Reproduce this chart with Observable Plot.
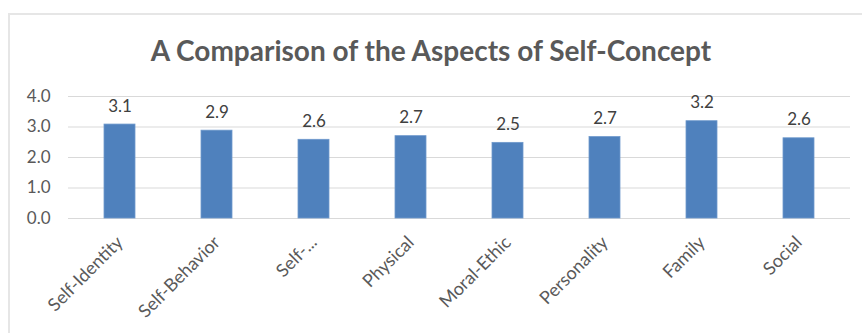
<!DOCTYPE html>
<html>
<head>
<meta charset="utf-8">
<script src="https://cdn.jsdelivr.net/npm/d3@7"></script>
<script src="https://cdn.jsdelivr.net/npm/@observablehq/plot@0.6"></script>
<style>
  html, body { margin: 0; padding: 0; background: #fff; width: 862px; height: 333px; overflow: hidden; }
  #frame { position: absolute; left: 8px; top: 13px; width: 1000px; height: 500px; border: 2px solid #e6e6e6; box-sizing: border-box; }
  #title { position: absolute; left: 0; width: 862px; top: 33px; text-align: center; font-family: Lato, sans-serif; font-weight: bold; font-size: 28px; color: #595959; line-height: 34px; }
  #chart { position: absolute; left: 0; top: 0; }
</style>
</head>
<body>
<div id="frame"></div>
<div id="chart"></div>
<div id="title">A Comparison of the Aspects of Self-Concept</div>
<script>
const categories = ["Self-Identity", "Self-Behavior", "Self-...", "Physical", "Moral-Ethic", "Personality", "Family", "Social"];
const values = [3.08, 2.88, 2.58, 2.70, 2.48, 2.67, 3.19, 2.63];
const yTicks = [0, 1, 2, 3, 4];

const data = categories.map((c, i) => ({category: c, value: values[i]}));

const chart = Plot.plot({
  width: 862,
  height: 333,
  marginLeft: 68,
  marginRight: 12,
  marginTop: 96,
  marginBottom: 115,
  style: {fontFamily: "Lato, sans-serif", background: "transparent"},
  x: {domain: categories, paddingInner: 0.68, paddingOuter: 0.34, label: null},
  y: {domain: [0, 4], label: null},
  marks: [
    Plot.gridY(yTicks, {stroke: "#d9d9d9", strokeOpacity: 1, strokeWidth: 1}),
    Plot.axisY(yTicks, {tickSize: 0, tickPadding: 18, tickFormat: d => d.toFixed(1), fontSize: 17, fill: "#595959", label: null}),
    Plot.axisX({tickSize: 0, tickRotate: -45, tickPadding: 21, fontSize: 18, fill: "#595959", label: null}),
    Plot.barY(data, {x: "category", y: "value", fill: "#4f81bd", stroke: "#6f99cc", strokeWidth: 0.8}),
    Plot.text(data, {x: "category", y: "value", text: d => d.value.toFixed(1), dy: -13, lineAnchor: "bottom", fontSize: 17, fill: "#404040"})
  ]
});
document.getElementById("chart").appendChild(chart);
</script>
</body>
</html>
